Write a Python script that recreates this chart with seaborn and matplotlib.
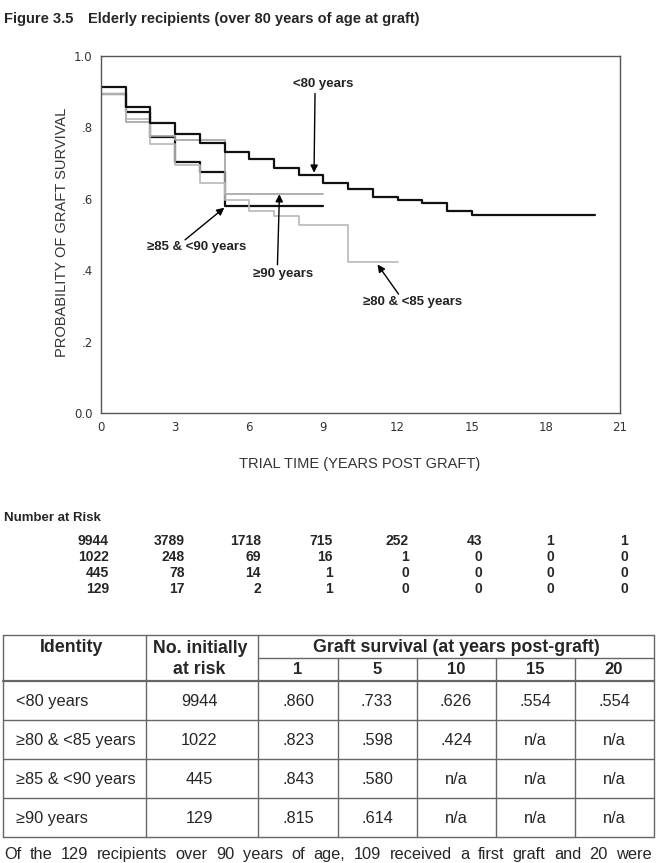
import matplotlib
matplotlib.use("Agg")
import pandas as pd
import seaborn as sns
import matplotlib.pyplot as plt
from matplotlib.lines import Line2D

W, H = 657, 863

# survival curve values, one per yearly interval
group_names = ["<80 years", "≥80 & <85 years", "≥85 & <90 years", "≥90 years"]
surv_under80 = [0.912, 0.856, 0.811, 0.781, 0.755, 0.731, 0.711, 0.687, 0.667, 0.643,
                0.627, 0.606, 0.597, 0.587, 0.567, 0.554, 0.554, 0.554, 0.554, 0.554]
surv_80_85 = [0.893, 0.823, 0.753, 0.695, 0.643, 0.598, 0.566, 0.552, 0.527, 0.527, 0.424, 0.424]
surv_85_90 = [0.893, 0.843, 0.772, 0.704, 0.674, 0.580, 0.580, 0.580, 0.580]
surv_90 = [0.893, 0.815, 0.777, 0.765, 0.765, 0.614, 0.614, 0.614, 0.614]

x_ticks = [0, 3, 6, 9, 12, 15, 18, 21]
y_ticks = [0.0, 0.2, 0.4, 0.6, 0.8, 1.0]
y_tick_labels = ["0.0", ".2", ".4", ".6", ".8", "1.0"]

# number at risk
risk_under80 = [9944, 3789, 1718, 715, 252, 43, 1, 1]
risk_80_85 = [1022, 248, 69, 16, 1, 0, 0, 0]
risk_85_90 = [445, 78, 14, 1, 0, 0, 0, 0]
risk_90 = [129, 17, 2, 1, 0, 0, 0, 0]

# summary table
table_years = ["1", "5", "10", "15", "20"]
table_initial = [9944, 1022, 445, 129]
table_under80 = [".860", ".733", ".626", ".554", ".554"]
table_80_85 = [".823", ".598", ".424", "n/a", "n/a"]
table_85_90 = [".843", ".580", "n/a", "n/a", "n/a"]
table_90 = [".815", ".614", "n/a", "n/a", "n/a"]

footnote = "Of the 129 recipients over 90 years of age, 109 received a first graft and 20 were"

sns.set_theme(style="white")
plt.rcParams["font.family"] = ["Liberation Sans", "DejaVu Sans"]

fig = plt.figure(figsize=(W / 100, H / 100), dpi=100)
fig.patch.set_facecolor("white")


def fx(px):
    return px / W


def fy(py):
    return 1 - py / H


ax = fig.add_axes([fx(101), fy(413), fx(620) - fx(101), fy(56) - fy(413)])

rows = []
for name, vals in zip(group_names, [surv_under80, surv_80_85, surv_85_90, surv_90]):
    for i, v in enumerate(vals):
        rows.append({"group": name, "year": i, "surv": v})
    rows.append({"group": name, "year": len(vals), "surv": vals[-1]})
curve_df = pd.DataFrame(rows)

line_styles = {
    "≥85 & <90 years": ("#111111", 1.6),
    "≥90 years": ("#a2a2a2", 1.2),
    "≥80 & <85 years": ("#b8b8b8", 1.2),
    "<80 years": ("#111111", 1.6),
}
for name, (color, lw) in line_styles.items():
    sns.lineplot(data=curve_df[curve_df.group == name], x="year", y="surv",
                 color=color, linewidth=lw, drawstyle="steps-post",
                 estimator=None, legend=False, ax=ax)

ax.set_xlim(0, 21)
ax.set_ylim(0, 1)
ax.set_xticks(x_ticks)
ax.set_xticklabels([str(t) for t in x_ticks])
ax.set_yticks(y_ticks)
ax.set_yticklabels(y_tick_labels)
ax.set_xlabel("")
ax.set_ylabel("")
ax.tick_params(direction="out", length=3, width=2.5, color="black",
               labelsize=8.5, labelcolor="#333333", pad=3)
for lab in ax.get_xticklabels() + ax.get_yticklabels():
    lab.set_family(["DejaVu Sans"])
for sp in ax.spines.values():
    sp.set_visible(True)
    sp.set_color("#555555")
    sp.set_linewidth(1)

# annotations with arrows
arrow_kw = dict(arrowstyle="-|>", color="black", lw=1, mutation_scale=11,
                shrinkA=0, shrinkB=0)
labels = [
    ("<80 years", (8.99, 0.922), (8.66, 0.895), (8.62, 0.673)),
    ("≥85 & <90 years", (3.87, 0.464), (3.40, 0.485), (4.99, 0.575)),
    ("≥90 years", (7.36, 0.388), (7.14, 0.415), (7.22, 0.613)),
    ("≥80 & <85 years", (12.62, 0.312), (12.04, 0.333), (11.19, 0.416)),
]
for text, tpos, start, end in labels:
    ax.text(tpos[0], tpos[1], text, ha="center", va="center", fontsize=9.5,
            fontweight="bold", color="#222222")
    ax.annotate("", xy=end, xytext=start, arrowprops=arrow_kw)

fig.text(fx(62), fy(232), "PROBABILITY OF GRAFT SURVIVAL", rotation=90,
         ha="center", va="center", fontsize=10.5, color="#333333")
fig.text(fx(360), fy(464), "TRIAL TIME (YEARS POST GRAFT)",
         ha="center", va="center", fontsize=10.5, color="#333333")

# title
fig.text(fx(4), fy(19), "Figure 3.5", ha="left", va="center",
         fontsize=10.5, fontweight="bold")
fig.text(fx(88), fy(19), "Elderly recipients (over 80 years of age at graft)",
         ha="left", va="center", fontsize=10.5, fontweight="bold")

# number at risk block
fig.text(fx(4), fy(518), "Number at Risk", ha="left", va="center",
         fontsize=9.5, fontweight="bold")
risk_cols = [109, 185, 261, 333, 409, 482, 554, 628]
risk_rows = [541, 557, 573, 589]
for ry, vals in zip(risk_rows, [risk_under80, risk_80_85, risk_85_90, risk_90]):
    for cx, v in zip(risk_cols, vals):
        fig.text(fx(cx), fy(ry), str(v), ha="right", va="center",
                 fontsize=10, fontweight="bold")


# table
def hline(y, x0, x1, lw=1.0, color="#666666"):
    fig.add_artist(Line2D([fx(x0), fx(x1)], [fy(y), fy(y)], lw=lw, color=color))


def vline(x, y0, y1, lw=1.0, color="#666666"):
    fig.add_artist(Line2D([fx(x), fx(x)], [fy(y0), fy(y1)], lw=lw, color=color))


t_left, t_right, t_top, t_bot = 3, 654, 635, 837
sub_y, head_y = 658, 681
row_lines = [720, 759, 798]
col_a, col_b = 146, 258
val_cols = [338, 417, 496, 575]

hline(t_top, t_left, t_right)
hline(t_bot, t_left, t_right)
hline(head_y, t_left, t_right, lw=1.6)
hline(sub_y, col_b, t_right)
for ry in row_lines:
    hline(ry, t_left, t_right)
vline(t_left, t_top, t_bot)
vline(t_right, t_top, t_bot)
vline(col_a, t_top, t_bot)
vline(col_b, t_top, t_bot)
for cx in val_cols:
    vline(cx, sub_y, t_bot)

head_fs = 12.8
fig.text(fx(72), fy(647), "Identity", ha="center", va="center",
         fontsize=head_fs, fontweight="bold")
fig.text(fx(200), fy(648), "No. initially", ha="center", va="center",
         fontsize=head_fs, fontweight="bold")
fig.text(fx(199), fy(669), "at risk", ha="center", va="center",
         fontsize=head_fs, fontweight="bold")
fig.text(fx(456), fy(647), "Graft survival (at years post-graft)", ha="center",
         va="center", fontsize=head_fs, fontweight="bold")

val_centers = [298, 377, 456, 535, 614]
for cx, yr in zip(val_centers, table_years):
    fig.text(fx(cx), fy(670), yr, ha="center", va="center",
             fontsize=12, fontweight="bold")

row_centers = [701, 740, 779, 818]
for ry, name, n0, vals in zip(row_centers, group_names, table_initial,
                              [table_under80, table_80_85, table_85_90, table_90]):
    fig.text(fx(16), fy(ry), name, ha="left", va="center", fontsize=11.8)
    fig.text(fx(199), fy(ry), str(n0), ha="center", va="center", fontsize=11.8)
    for cx, v in zip(val_centers, vals):
        fig.text(fx(cx), fy(ry), v, ha="center", va="center", fontsize=11.8)

# justified footnote line
words = footnote.split()
word_texts = [fig.text(0, fy(859), w, ha="left", va="baseline", fontsize=11.8)
              for w in words]
fig.canvas.draw()
renderer = fig.canvas.get_renderer()
widths = [t.get_window_extent(renderer).width for t in word_texts]
left_px, right_px = 4, 652
gap = (right_px - left_px - sum(widths)) / (len(words) - 1)
xpos = left_px
for t, wdt in zip(word_texts, widths):
    t.set_x(fx(xpos))
    xpos += wdt + gap

fig.savefig("out.png", dpi=100, facecolor="white")
